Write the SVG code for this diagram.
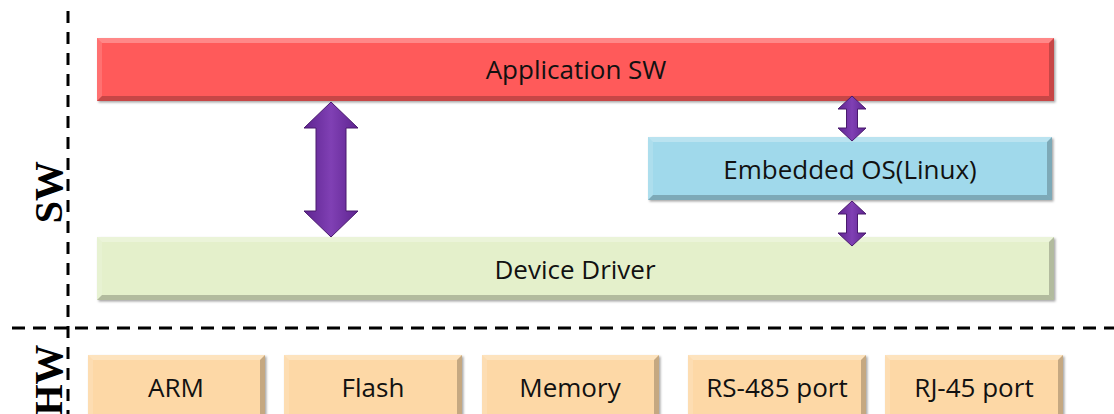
<svg xmlns="http://www.w3.org/2000/svg" width="1114" height="414" viewBox="0 0 1114 414">
  <defs>
    <style>
      .lbl { font-family: "Open Sans", "Liberation Sans", sans-serif; font-size: 26px; fill: #111; text-anchor: middle; }
      .side { font-family: "Liberation Serif", "Times New Roman", serif; font-size: 40px; font-weight: bold; fill: #000; text-anchor: middle; }
      .hi { fill: #fff; opacity: 0.28; }
      .hi2 { fill: #fff; opacity: 0.14; }
      .lo { fill: #000; opacity: 0.22; }
      .dash { stroke: #000; stroke-width: 3; fill: none; }
      .arrow { fill: url(#shaft); stroke: #4A1A6E; stroke-width: 1; }
      .red { fill: #FF5A5A; }
      .blue { fill: #A0D9EB; }
      .green { fill: #E4F0CB; }
      .orange { fill: #FDD8A6; }
    </style>
    <filter id="shadow" x="-5%" y="-20%" width="110%" height="150%">
      <feDropShadow dx="1.5" dy="1.5" stdDeviation="1" flood-color="#000" flood-opacity="0.35"/>
    </filter>
    <linearGradient id="shaft" x1="0" y1="0" x2="1" y2="0">
      <stop offset="0" stop-color="#5E2490"/>
      <stop offset="0.5" stop-color="#8040B4"/>
      <stop offset="1" stop-color="#5E2490"/>
    </linearGradient>
  </defs>

  <!-- SW / HW separators -->
  <g id="separators">
    <line class="dash" x1="68" y1="11" x2="68" y2="414" stroke-dasharray="12 9"/>
    <line class="dash" x1="12" y1="328" x2="1114" y2="328" stroke-dasharray="13 8"/>
  </g>

  <!-- layer labels -->
  <g id="label-sw">
    <text class="side" transform="translate(62,192) rotate(-90)">SW</text>
  </g>
  <g id="label-hw">
    <text class="side" transform="translate(62,380) rotate(-90)">HW</text>
  </g>

  <!-- Application SW: x=97 y=38 w=957 h=63 -->
  <g id="app-sw">
    <rect class="red" x="97" y="38" width="957" height="63" filter="url(#shadow)"/>
    <polygon class="hi" points="97,38 1054,38 1049,43 102,43"/>
    <polygon class="hi2" points="97,38 102,43 102,96 97,101"/>
    <polygon class="lo" points="1054,38 1054,101 1049,96 1049,43"/>
    <polygon class="lo" points="97,101 1054,101 1049,96 102,96"/>
    <text class="lbl" x="576" y="79">Application SW</text>
  </g>

  <!-- Embedded OS: x=648 y=137 w=404 h=63 -->
  <g id="embedded-os">
    <rect class="blue" x="648" y="137" width="404" height="63" filter="url(#shadow)"/>
    <polygon class="hi" points="648,137 1052,137 1047,142 653,142"/>
    <polygon class="hi2" points="648,137 653,142 653,195 648,200"/>
    <polygon class="lo" points="1052,137 1052,200 1047,195 1047,142"/>
    <polygon class="lo" points="648,200 1052,200 1047,195 653,195"/>
    <text class="lbl" x="850" y="179">Embedded OS(Linux)</text>
  </g>

  <!-- Device Driver: x=97 y=237 w=957 h=63 -->
  <g id="device-driver">
    <rect class="green" x="97" y="237" width="957" height="63" filter="url(#shadow)"/>
    <polygon class="hi" points="97,237 1054,237 1049,242 102,242"/>
    <polygon class="hi2" points="97,237 102,242 102,295 97,300"/>
    <polygon class="lo" points="1054,237 1054,300 1049,295 1049,242"/>
    <polygon class="lo" points="97,300 1054,300 1049,295 102,295"/>
    <text class="lbl" x="575" y="279">Device Driver</text>
  </g>

  <!-- hardware blocks -->
  <g id="hw-arm">
    <rect class="orange" x="88" y="355" width="177" height="70" filter="url(#shadow)"/>
    <polygon class="hi" points="88,355 265,355 260,360 93,360"/>
    <polygon class="hi2" points="88,355 93,360 93,425 88,425"/>
    <polygon class="lo" points="265,355 265,425 260,425 260,360"/>
    <text class="lbl" x="176" y="397">ARM</text>
  </g>
  <g id="hw-flash">
    <rect class="orange" x="284" y="355" width="178" height="70" filter="url(#shadow)"/>
    <polygon class="hi" points="284,355 462,355 457,360 289,360"/>
    <polygon class="hi2" points="284,355 289,360 289,425 284,425"/>
    <polygon class="lo" points="462,355 462,425 457,425 457,360"/>
    <text class="lbl" x="373" y="397">Flash</text>
  </g>
  <g id="hw-memory">
    <rect class="orange" x="482" y="355" width="177" height="70" filter="url(#shadow)"/>
    <polygon class="hi" points="482,355 659,355 654,360 487,360"/>
    <polygon class="hi2" points="482,355 487,360 487,425 482,425"/>
    <polygon class="lo" points="659,355 659,425 654,425 654,360"/>
    <text class="lbl" x="570" y="397">Memory</text>
  </g>
  <g id="hw-rs485">
    <rect class="orange" x="688" y="355" width="178" height="70" filter="url(#shadow)"/>
    <polygon class="hi" points="688,355 866,355 861,360 693,360"/>
    <polygon class="hi2" points="688,355 693,360 693,425 688,425"/>
    <polygon class="lo" points="866,355 866,425 861,425 861,360"/>
    <text class="lbl" x="777" y="397">RS-485 port</text>
  </g>
  <g id="hw-rj45">
    <rect class="orange" x="885" y="355" width="178" height="70" filter="url(#shadow)"/>
    <polygon class="hi" points="885,355 1063,355 1058,360 890,360"/>
    <polygon class="hi2" points="885,355 890,360 890,425 885,425"/>
    <polygon class="lo" points="1063,355 1063,425 1058,425 1058,360"/>
    <text class="lbl" x="974" y="397">RJ-45 port</text>
  </g>

  <!-- connectors: double-headed block arrows -->
  <g id="connectors">
    <path class="arrow" d="M331,102 L358,128 L346,128 L346,211 L358,211 L331,237 L304,211 L316,211 L316,128 L304,128 Z"/>
    <path class="arrow" d="M852,96 L866,109 L857.5,109 L857.5,128 L866,128 L852,141 L838,128 L846.5,128 L846.5,109 L838,109 Z"/>
    <path class="arrow" d="M852,201 L866,214 L857.5,214 L857.5,233 L866,233 L852,246 L838,233 L846.5,233 L846.5,214 L838,214 Z"/>
  </g>
</svg>
